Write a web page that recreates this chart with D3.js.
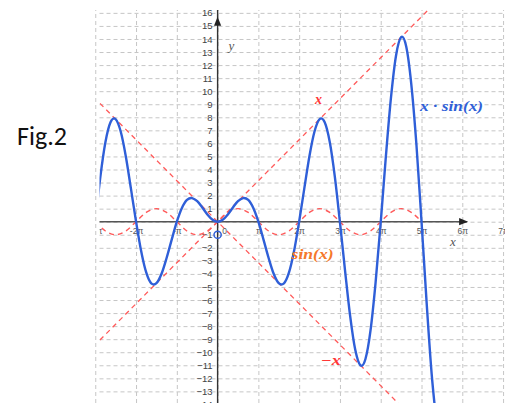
<!DOCTYPE html>
<html>
<head>
<meta charset="utf-8">
<script src="https://cdn.jsdelivr.net/npm/d3@7/dist/d3.min.js"></script>
<style>
  body { margin: 0; background: #fff; }
  svg { display: block; }
</style>
</head>
<body>
<div id="chart"></div>
<script>
// x*sin(x) (x in radians)
const prodX = [-9.42, -9.03, -8.64, -8.25, -7.98, -7.85, -7.46, -7.07, -6.68, -6.28, -5.89, -5.50, -5.11, -4.91, -4.71,
  -4.32, -3.93, -3.53, -3.14, -2.75, -2.36, -2.03, -1.96, -1.57, -1.18, -0.79, -0.39, 0,
  0.39, 0.79, 1.18, 1.57, 1.96, 2.03, 2.36, 2.75, 3.14, 3.53, 3.93, 4.32, 4.71, 4.91, 5.11, 5.50, 5.89, 6.28,
  6.68, 7.07, 7.46, 7.85, 7.98, 8.25, 8.64, 9.03, 9.42, 9.82, 10.21, 10.60, 11.00, 11.09, 11.39, 11.78, 12.17, 12.57,
  12.96, 13.35, 13.74, 14.14, 14.21, 14.53, 14.92, 15.32, 15.71, 16.10, 16.49, 16.89];
const prodY = [0, 3.46, 6.11, 7.62, 7.92, 7.85, 6.89, 5.00, 2.55, 0, -2.25, -3.89, -4.72, -4.81, -4.71,
  -3.99, -2.78, -1.35, 0, 1.05, 1.67, 1.82, 1.81, 1.57, 1.09, 0.56, 0.15, 0,
  0.15, 0.56, 1.09, 1.57, 1.81, 1.82, 1.67, 1.05, 0, -1.35, -2.78, -3.99, -4.71, -4.81, -4.72, -3.89, -2.25, 0,
  2.55, 5.00, 6.89, 7.85, 7.92, 7.62, 6.11, 3.46, 0, -3.76, -7.22, -9.80, -11.00, -11.04, -10.52, -8.33, -4.66, 0,
  4.96, 9.44, 12.70, 14.14, 14.17, 13.42, 10.55, 5.86, 0, -6.16, -11.66, -15.60];

// sin(x), drawn from -3pi to 5pi
const sinX = [-9.42, -8.64, -7.85, -7.07, -6.28, -5.50, -4.71, -3.93, -3.14, -2.36, -1.57, -0.79, 0,
  0.79, 1.57, 2.36, 3.14, 3.93, 4.71, 5.50, 6.28, 7.07, 7.85, 8.64, 9.42, 10.21, 11.00, 11.78, 12.57,
  13.35, 14.14, 14.92, 15.71];
const sinY = [0, -0.71, -1, -0.71, 0, 0.71, 1, 0.71, 0, -0.71, -1, -0.71, 0,
  0.71, 1, 0.71, 0, -0.71, -1, -0.71, 0, 0.71, 1, 0.71, 0, -0.71, -1, -0.71, 0,
  0.71, 1, 0.71, 0];

// the two envelope lines y = x and y = -x
const upperX = [-12, 18];
const upperY = [-12, 18];
const lowerX = [-12, 16];
const lowerY = [12, -16];

// open point at (0, -1)
const pointX = [0];
const pointY = [-1];

// ticks: x in multiples of pi
const xTickPi = [-3, -2, -1, 1, 2, 3, 4, 5, 6, 7];
const xTickLabels = ['-3π', '-2π', '-π', 'π', '2π', '3π', '4π', '5π', '6π', '7π'];
const gridPi = [-3, -2, -1, 0, 1, 2, 3, 4, 5, 6, 7];
const yTicks = [-14, -13, -12, -11, -10, -9, -8, -7, -6, -5, -4, -3, -2, -1,
  1, 2, 3, 4, 5, 6, 7, 8, 9, 10, 11, 12, 13, 14, 15, 16];
const gridY = [-14, -13, -12, -11, -10, -9, -8, -7, -6, -5, -4, -3, -2, -1, 0,
  1, 2, 3, 4, 5, 6, 7, 8, 9, 10, 11, 12, 13, 14, 15, 16];

const width = 513;
const height = 403;
const plot = { left: 99.5, right: 505, top: 10, bottom: 403 };

const blue = '#2f5fd8';
const red = '#ff5a5a';

const svg = d3.select('#chart')
  .append('svg')
  .attr('width', width)
  .attr('height', height)
  .style('font-family', '"Liberation Sans", Arial, sans-serif');

const xScale = d3.scaleLinear().domain([-9.06, 22.14]).range([100, 505]);
const yScale = d3.scaleLinear().domain([-13.89, 16.22]).range([403, 10]);

svg.append('defs').append('clipPath')
  .attr('id', 'plot-clip')
  .append('rect')
  .attr('x', plot.left)
  .attr('y', plot.top)
  .attr('width', plot.right - plot.left)
  .attr('height', plot.bottom - plot.top);

// Caption on the left
svg.append('text')
  .attr('x', 17)
  .attr('y', 145)
  .attr('font-family', 'Carlito, Lato, sans-serif')
  .attr('font-size', 26)
  .attr('fill', '#111')
  .text('Fig.2');

// dashed grid
const gridV = svg.append('g')
  .attr('transform', `translate(0,${plot.bottom})`)
  .call(d3.axisBottom(xScale).tickValues(gridPi.map(k => k * Math.PI)).tickSize(-(plot.bottom - plot.top)).tickFormat(''));
const gridH = svg.append('g')
  .attr('transform', `translate(${plot.left},0)`)
  .call(d3.axisLeft(yScale).tickValues(gridY).tickSize(-(plot.right - plot.left)).tickFormat(''));
[gridV, gridH].forEach(g => {
  g.select('.domain').remove();
  g.selectAll('.tick line')
    .attr('stroke', '#c6c6c6')
    .attr('stroke-width', 1)
    .attr('stroke-dasharray', '4,3');
});

// axes lines with arrows
const x0 = xScale(0);
const y0 = yScale(0);
svg.append('line')
  .attr('x1', plot.left).attr('x2', xScale(19.2))
  .attr('y1', y0).attr('y2', y0)
  .attr('stroke', '#555').attr('stroke-width', 1.4);
svg.append('path')
  .attr('d', `M${xScale(19.3)},${y0} l-9,-3.6 l0,7.2 z`)
  .attr('fill', '#222');
svg.append('line')
  .attr('x1', x0).attr('x2', x0)
  .attr('y1', plot.bottom).attr('y2', plot.top)
  .attr('stroke', '#333').attr('stroke-width', 1.4);
svg.append('path')
  .attr('d', `M${x0},${yScale(15.7)} l-3.6,9 l7.2,0 z`)
  .attr('fill', '#222');

// tick labels
const yAxis = svg.append('g')
  .attr('transform', `translate(${x0 - 1},0)`)
  .call(d3.axisLeft(yScale).tickValues(yTicks).tickSize(0).tickPadding(4));
yAxis.select('.domain').remove();
yAxis.selectAll('text')
  .attr('font-size', 9.5)
  .attr('font-family', '"Liberation Sans", Arial, sans-serif')
  .attr('fill', '#444');

// clip group is untransformed so the clip rect stays in page coordinates
const xAxis = svg.append('g')
  .attr('clip-path', 'url(#plot-clip)')
  .append('g')
  .attr('transform', `translate(0,${y0})`)
  .call(d3.axisBottom(xScale).tickValues(xTickPi.map(k => k * Math.PI)).tickSize(0).tickPadding(6)
    .tickFormat((d, i) => xTickLabels[i]));
xAxis.select('.domain').remove();
xAxis.selectAll('text')
  .attr('font-size', 8.5)
  .attr('font-family', '"Liberation Sans", Arial, sans-serif')
  .attr('fill', '#555');

svg.append('text')
  .attr('x', x0 + 7)
  .attr('y', y0 + 12)
  .attr('text-anchor', 'middle')
  .attr('font-size', 8.5)
  .attr('fill', '#555')
  .text('0');

// axis names
svg.append('text')
  .attr('x', x0 + 11)
  .attr('y', 50)
  .attr('font-family', '"Liberation Serif", serif')
  .attr('font-style', 'italic')
  .attr('font-size', 13)
  .attr('fill', '#555')
  .text('y');
svg.append('text')
  .attr('x', 450)
  .attr('y', 246)
  .attr('font-family', '"Liberation Serif", serif')
  .attr('font-style', 'italic')
  .attr('font-size', 13)
  .attr('fill', '#555')
  .text('x');

// curves
const plotArea = svg.append('g').attr('clip-path', 'url(#plot-clip)');

const line = d3.line()
  .x(d => xScale(d[0]))
  .y(d => yScale(d[1]));
const smooth = d3.line()
  .x(d => xScale(d[0]))
  .y(d => yScale(d[1]))
  .curve(d3.curveMonotoneX);

plotArea.append('path')
  .datum(d3.zip(upperX, upperY))
  .attr('fill', 'none')
  .attr('stroke', red)
  .attr('stroke-width', 1.3)
  .attr('stroke-dasharray', '5,4')
  .attr('d', line);

plotArea.append('path')
  .datum(d3.zip(lowerX, lowerY))
  .attr('fill', 'none')
  .attr('stroke', red)
  .attr('stroke-width', 1.3)
  .attr('stroke-dasharray', '5,4')
  .attr('d', line);

plotArea.append('path')
  .datum(d3.zip(sinX, sinY))
  .attr('fill', 'none')
  .attr('stroke', red)
  .attr('stroke-width', 1.4)
  .attr('stroke-dasharray', '5,4')
  .attr('d', smooth);

plotArea.append('path')
  .datum(d3.zip(prodX, prodY))
  .attr('fill', 'none')
  .attr('stroke', blue)
  .attr('stroke-width', 2.4)
  .attr('stroke-linejoin', 'round')
  .attr('d', smooth);

plotArea.selectAll('.pt')
  .data(d3.zip(pointX, pointY))
  .enter().append('circle')
  .attr('class', 'pt')
  .attr('cx', d => xScale(d[0]))
  .attr('cy', d => yScale(d[1]))
  .attr('r', 3.6)
  .attr('fill', 'none')
  .attr('stroke', blue)
  .attr('stroke-width', 1.5);

// curve labels
const labels = [
  { text: 'x', x: 7.5, y: 9.05, color: '#ff3838', len: null },
  { text: 'x · sin(x)', x: 15.6, y: 8.45, color: blue, len: 63 },
  { text: 'sin(x)', x: 5.7, y: -2.88, color: '#f5782a', len: 42 },
  { text: '−x', x: 7.95, y: -10.95, color: '#ff3838', len: 20 }
];
labels.forEach(l => {
  const t = svg.append('text')
    .attr('x', xScale(l.x))
    .attr('y', yScale(l.y))
    .attr('font-family', '"Liberation Serif", serif')
    .attr('font-style', 'italic')
    .attr('font-weight', 'bold')
    .attr('font-size', 14)
    .attr('fill', l.color)
    .text(l.text);
  if (l.len) t.attr('textLength', l.len).attr('lengthAdjust', 'spacingAndGlyphs');
});
</script>
</body>
</html>
